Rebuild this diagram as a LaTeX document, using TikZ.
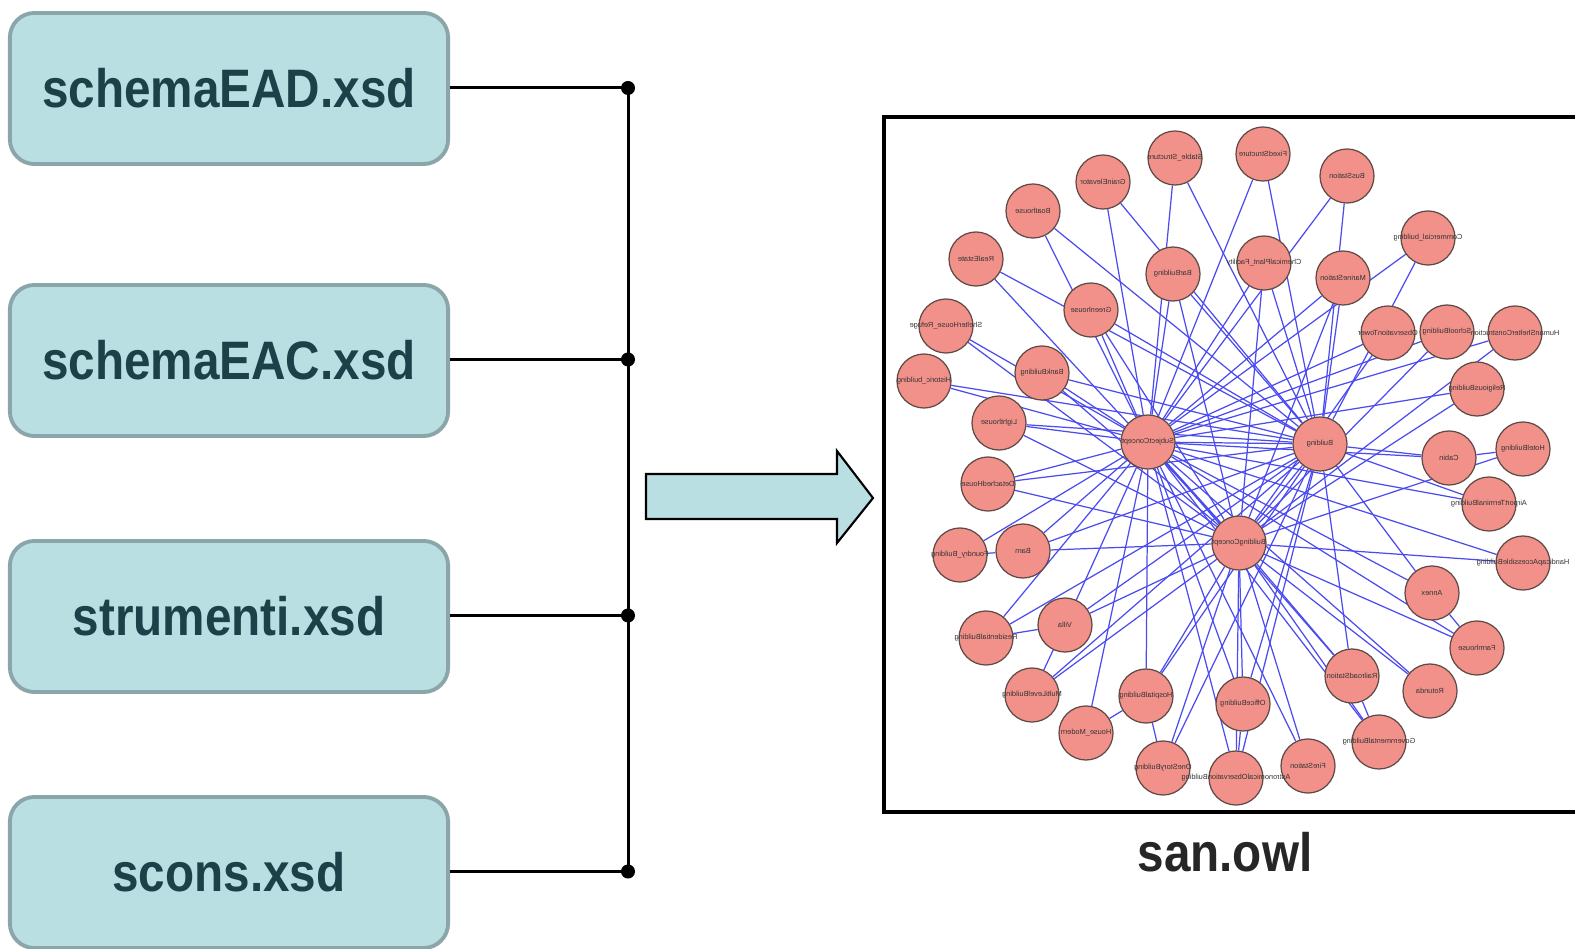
\documentclass[tikz,border=0pt]{standalone}
\usepackage{fontspec}
\setmainfont{Liberation Sans}
\usepackage{graphicx}
\usetikzlibrary{backgrounds}
\definecolor{xsdfill}{HTML}{B9DFE2}
\definecolor{xsdbordo}{HTML}{8BA6A8}
\definecolor{xsdtesto}{HTML}{1D4148}
\definecolor{owlfill}{HTML}{F2918A}
\definecolor{owlbordo}{HTML}{5E4A46}
\definecolor{owlarco}{HTML}{4B4BF0}
\newcommand{\stretto}[1]{\scalebox{0.88}[1]{#1}}
\newcommand{\rov}[1]{\scalebox{-1}[1]{#1}}
\tikzset{
  xsdbox/.style={draw=xsdbordo, line width=1.1pt, fill=xsdfill, rounded corners=7pt,
                 minimum width=4.38cm, minimum height=1.51cm, inner sep=0pt,
                 text=xsdtesto, font=\fontsize{15.4}{18}\selectfont\bfseries},
  owlnode/.style={circle, draw=owlbordo, line width=0.35pt, fill=owlfill,
                  minimum size=0.54cm, inner sep=0pt,
                  label={[owltesto]center:\rov{#1}}},
  owltesto/.style={inner sep=0pt, text=black!80, font=\fontsize{2.1}{2.5}\selectfont},
  owlarc/.style={draw=owlarco, line width=0.35pt},
  bus/.style={line width=0.85pt},
  punto/.style={circle, fill=black, inner sep=0pt, minimum size=0.14cm},
}

\begin{document}
\begin{tikzpicture}[x=0.01cm, y=-0.01cm]
        \useasboundingbox (0,0) rectangle (1575,949);
        % ---------------- schemi xsd ----------------
        \node[xsdbox] (ead) at (229,88.5) {\stretto{schemaEAD.xsd}};
        \node[xsdbox] (eac) at (229,360.5) {\stretto{schemaEAC.xsd}};
        \node[xsdbox] (str) at (229,616.5) {\stretto{strumenti.xsd}};
        \node[xsdbox] (scons) at (229,872.5) {\stretto{scons.xsd}};
        \node[punto] (p1) at (628,88) {};
        \node[punto] (p2) at (628,359.5) {};
        \node[punto] (p3) at (628,615.5) {};
        \node[punto] (p4) at (628,871.5) {};
        \draw[bus] (ead.east |- p1) -- (p1.center);
        \draw[bus] (eac.east |- p2) -- (p2.center);
        \draw[bus] (str.east |- p3) -- (p3.center);
        \draw[bus] (scons.east |- p4) -- (p4.center);
        \draw[bus] (p1.center) -- (p4.center);
        % ---------------- freccia ----------------
        \draw[fill=xsdfill, line width=0.6pt] (646,474) -- (837,474) -- (837,451) -- (873,498)
          -- (837,543) -- (837,519) -- (646,519) -- cycle;
        % ---------------- ontologia ----------------
        \draw[line width=1.1pt] (884,117) rectangle (1600,812);
        \node[font=\fontsize{15.4}{18}\selectfont\bfseries, text=black!85] (owl) at (1225,852) {\stretto{san.owl}};
        \node[owlnode=SubjectConcept] (subj) at (1148,442) {};
        \node[owlnode=Building] (bldg) at (1320,444) {};
        \node[owlnode=BuildingConcept] (bconc) at (1239,543) {};
        \node[owlnode=Stable\_Structure] (stable) at (1175,158) {};
        \node[owlnode=FixedStructure] (fixed) at (1263,154) {};
        \node[owlnode=GrainElevator] (grain) at (1103,182) {};
        \node[owlnode=BusStation] (busst) at (1347,176) {};
        \node[owlnode=Boathouse] (boat) at (1033,211) {};
        \node[owlnode=Commercial\_building] (comm) at (1428,238) {};
        \node[owlnode=RealEstate] (realest) at (976,259) {};
        \node[owlnode=ChemicalPlant\_Facility] (chem) at (1264,263) {};
        \node[owlnode=BarBuilding] (bar) at (1173,274) {};
        \node[owlnode=MarineStation] (marine) at (1343,278) {};
        \node[owlnode=Greenhouse] (green) at (1091,310) {};
        \node[owlnode=ShelterHouse\_Refuge] (shelter) at (946,326) {};
        \node[owlnode=ObservationTower] (obs) at (1388,333) {};
        \node[owlnode=SchoolBuilding] (school) at (1447,332) {};
        \node[owlnode=HumanShelterConstruction] (human) at (1515,333) {};
        \node[owlnode=BankBuilding] (bank) at (1042,373) {};
        \node[owlnode=Historic\_building] (hist) at (924,381) {};
        \node[owlnode=ReligiousBuilding] (relig) at (1477,389) {};
        \node[owlnode=Lighthouse] (light) at (999,423) {};
        \node[owlnode=Cabin] (cabin) at (1449,458) {};
        \node[owlnode=HotelBuilding] (hotel) at (1523,449) {};
        \node[owlnode=DetachedHouse] (detached) at (988,484) {};
        \node[owlnode=AirportTerminalBuilding] (airport) at (1489,504) {};
        \node[owlnode=Foundry\_Building] (foundry) at (960,555) {};
        \node[owlnode=Barn] (barn) at (1023,551) {};
        \node[owlnode=HandicapAccessibleBuilding] (handi) at (1523,563) {};
        \node[owlnode=Annex] (annex) at (1432,593) {};
        \node[owlnode=Villa] (villa) at (1065,625) {};
        \node[owlnode=ResidentialBuilding] (resid) at (986,638) {};
        \node[owlnode=Farmhouse] (farm) at (1477,648) {};
        \node[owlnode=RailroadStation] (rail) at (1352,676) {};
        \node[owlnode=Rotunda] (rotunda) at (1430,691) {};
        \node[owlnode=MultiLevelBuilding] (multi) at (1032,695) {};
        \node[owlnode=HospitalBuilding] (hosp) at (1146,696) {};
        \node[owlnode=OfficeBuilding] (office) at (1243,704) {};
        \node[owlnode=House\_Modern] (housem) at (1086,733) {};
        \node[owlnode=GovernmentalBuilding] (gov) at (1379,742) {};
        \node[owlnode=OneStoryBuilding] (onestory) at (1163,768) {};
        \node[owlnode=FireStation] (fire) at (1308,766) {};
        \node[owlnode=AstronomicalObservationBuilding] (astro) at (1236,778) {};
        % ---------------- archi ----------------
        \begin{scope}[on background layer]
        \foreach \a/\b in {subj/bldg, subj/bconc, bldg/bconc,
            stable/subj, stable/bldg, fixed/subj, fixed/bldg, grain/subj, grain/bldg,
            busst/subj, busst/bldg, boat/subj, boat/bldg, comm/subj, comm/bldg,
            realest/bldg, realest/bconc, chem/subj, chem/bldg, chem/bconc,
            bar/subj, bar/bldg, bar/bconc, marine/subj, marine/bldg, marine/bconc,
            green/subj, green/bldg, green/bconc, shelter/subj, shelter/bconc,
            obs/subj, obs/bconc, school/subj, school/bconc, human/subj, human/bconc,
            bank/subj, bank/bldg, bank/bconc, hist/subj, hist/bldg, relig/subj, relig/bconc,
            light/subj, light/bldg, light/bconc, cabin/bldg, cabin/hotel, cabin/subj,
            hotel/bconc, detached/subj, detached/bldg, detached/bconc,
            airport/subj, airport/bldg, foundry/barn, foundry/subj,
            barn/subj, barn/bldg, barn/bconc, handi/subj, handi/bconc,
            annex/subj, annex/bldg, annex/farm, villa/resid, villa/subj, villa/bldg, villa/bconc,
            resid/subj, resid/bldg, farm/subj, farm/bconc,
            rail/subj, rail/bldg, rail/bconc, rail/gov, rotunda/subj, rotunda/bconc,
            multi/villa, multi/bldg, multi/bconc, hosp/subj, hosp/bldg, hosp/bconc,
            hosp/onestory, hosp/housem, office/subj, office/bldg, office/bconc, office/astro,
            housem/subj, gov/subj, gov/bconc, onestory/bldg, onestory/bconc,
            fire/subj, fire/bconc, astro/subj, astro/bldg, astro/bconc}
          \draw[owlarc] (\a) -- (\b);
        \end{scope}
    \end{tikzpicture}
\end{document}
